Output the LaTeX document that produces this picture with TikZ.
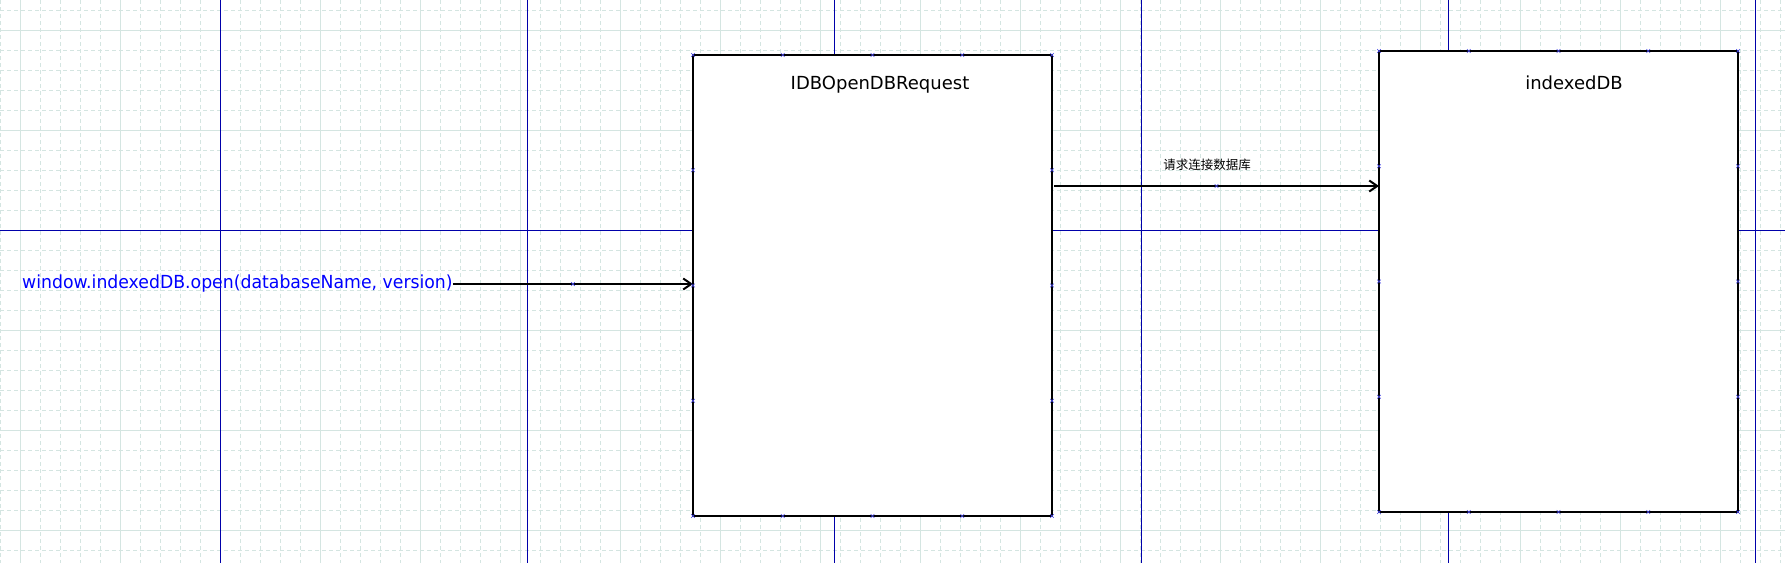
\documentclass[tikz,border=0pt]{standalone}
\usepackage{fontspec}
\setmainfont{DejaVu Sans}
\newfontfamily\cjk{Noto Sans CJK SC}
\newfontfamily\condfont[FakeStretch=0.96]{DejaVu Sans}
\usetikzlibrary{calc,arrows.meta}
\definecolor{gridc}{RGB}{212,229,225}
\definecolor{guide}{RGB}{0,0,170}
\definecolor{mkc}{RGB}{70,70,230}
\definecolor{codeblue}{RGB}{0,0,255}
\begin{document}
\begin{tikzpicture}[x=1pt,y=-1pt,
  box/.style={draw=black, line width=2pt, fill=white, minimum width=359pt,
    minimum height=461pt, inner sep=0pt, outer sep=0pt},
  title/.style={font=\fontsize{18}{22}\selectfont, text=black, inner sep=0pt},
  codelabel/.style={font=\condfont\fontsize{18}{22}\selectfont, text=codeblue, inner sep=0pt},
  cnlabel/.style={font=\cjk\fontsize{12.5}{15}\selectfont, text=black, inner sep=0pt},
  arr/.style={line width=2pt, draw=black,
    -{Straight Barb[length=8pt,width=11pt,line width=2pt]}},
  minorgrid/.style={draw=gridc, line width=0.8pt, dash pattern=on 4pt off 3pt},
  majorgrid/.style={draw=gridc, line width=0.9pt},
  guideline/.style={draw=guide, line width=1pt},
  xmkline/.style={draw=mkc, line width=0.6pt},
  xmk/.pic={\draw[xmkline] (-1.8,-1.8) -- (1.8,1.8) (-1.8,1.8) -- (1.8,-1.8);}
]
\fill[white] (0,0) rectangle (1785,563);
\useasboundingbox (0,0) rectangle (1785,563);
% grid
\foreach \x in {0,20,...,1780} \draw[minorgrid] (\x,0) -- (\x,563);
\foreach \y in {10,30,...,550} \draw[minorgrid] (0,\y) -- (1785,\y);
\foreach \x in {20,120,...,1720} \draw[majorgrid] (\x,0) -- (\x,563);
\foreach \y in {30,130,...,530} \draw[majorgrid] (0,\y) -- (1785,\y);
% guides
\foreach \x in {220,527,834,1141,1448,1755} \draw[guideline] (\x,0) -- (\x,563);
\draw[guideline] (0,230) -- (1785,230);
% boxes
\node[box] (box1) at (872.5,285.5) {};
\node[box] (box2) at (1558.5,281.5) {};
\node[title] (t1) at (880,85) {IDBOpenDBRequest};
\node[title] (t2) at (1574,83) {indexedDB};
% call label and arrows
\node[codelabel, anchor=west] (call) at (22,284) {window.indexedDB.open(databaseName, version)};
\draw[arr] (call.east) -- (call.east -| box1.west);
\coordinate (a2s) at ([xshift=2pt,yshift=-131pt]box1.north east);
\coordinate (a2e) at ([yshift=-135pt]box2.north west);
\draw[arr] (a2s) -- (a2e);
\node[cnlabel] (req) at (1207,165) {请求连接数据库};
% connection markers
\foreach \b in {box1,box2}{
  \foreach \t in {0,0.25,0.5,0.75,1}{
    \pic at ($(\b.north west)!\t!(\b.north east)$) {xmk};
    \pic at ($(\b.south west)!\t!(\b.south east)$) {xmk};
  }
  \foreach \t in {0.25,0.5,0.75}{
    \pic at ($(\b.north west)!\t!(\b.south west)$) {xmk};
    \pic at ($(\b.north east)!\t!(\b.south east)$) {xmk};
  }
}
\pic at ($(call.east)!0.5!(call.east -| box1.west)$) {xmk};
\pic at ($(a2s)!0.5!(a2e)$) {xmk};
\end{tikzpicture}
\end{document}
